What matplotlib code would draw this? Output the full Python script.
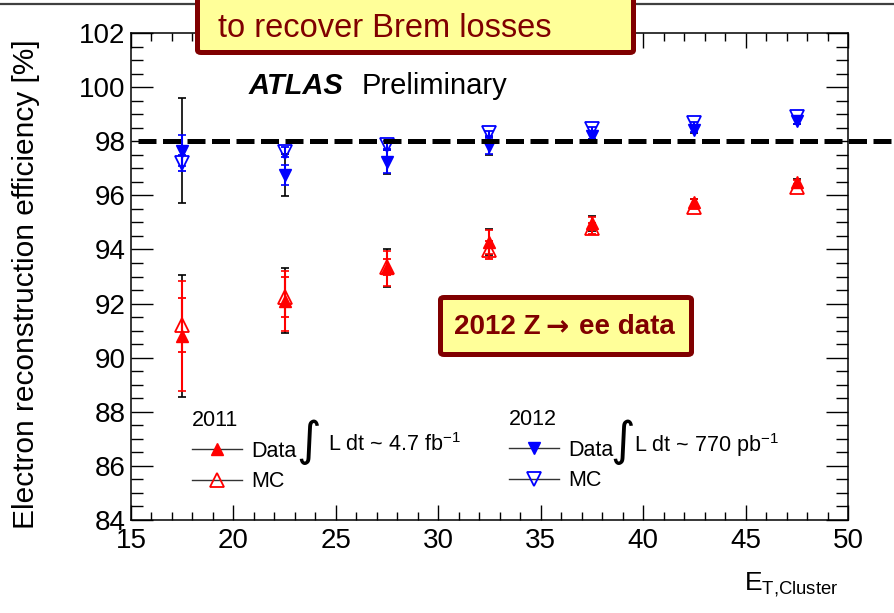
import matplotlib
matplotlib.use('Agg')
import matplotlib.pyplot as plt
from matplotlib.ticker import MultipleLocator
from matplotlib.lines import Line2D
from matplotlib.patches import FancyBboxPatch
from matplotlib.transforms import blended_transform_factory

plt.rcParams['font.family'] = ['Liberation Sans', 'DejaVu Sans']
plt.rcParams['mathtext.fontset'] = 'custom'
plt.rcParams['mathtext.rm'] = 'Liberation Sans'
plt.rcParams['mathtext.it'] = 'Liberation Sans:italic'
plt.rcParams['mathtext.bf'] = 'Liberation Sans:bold'

DARKRED = '#800000'
YELLOW = '#ffff99'

# E_T bins (GeV)
et_bins = [17.5, 22.5, 27.5, 32.5, 37.5, 42.5, 47.5]

# 2011 efficiencies [%]
eff11_data = [90.8, 92.1, 93.3, 94.28, 94.96, 95.76, 96.5]
eff11_stat = [2.05, 1.1, 0.65, 0.45, 0.25, 0.1, 0.08]
eff11_tot = [2.27, 1.2, 0.7, 0.48, 0.27, 0.12, 0.1]
eff11_mc = [91.2, 92.25, 93.35, 93.98, 94.78, 95.58, 96.32]
eff11_mc_err = [1.0, 0.75, 0.3, 0.35, 0.2, 0.08, 0.06]

# 2012 efficiencies [%]
eff12_data = [97.65, 96.75, 97.24, 97.82, 98.2, 98.41, 98.73]
eff12_stat = [0.58, 0.38, 0.43, 0.3, 0.1, 0.08, 0.08]
eff12_tot = [1.94, 0.76, 0.45, 0.32, 0.12, 0.1, 0.1]
eff12_mc = [97.2, 97.6, 97.86, 98.29, 98.45, 98.66, 98.88]
eff12_mc_err = [0.3, 0.2, 0.15, 0.1, 0.06, 0.05, 0.05]

ref_level = 98.0

W, H = 894, 613
fig = plt.figure(figsize=(W / 100, H / 100), dpi=100)
ax = fig.add_axes([131 / W, 1 - 520 / H, (848 - 131) / W, (520 - 33) / H])


def fx(px):
    return px / W


def fy(py):
    return 1 - py / H


# total errors in black underneath, stat errors in colour on top
ax.errorbar(et_bins, eff11_data, yerr=eff11_tot, fmt='none', ecolor='black',
            elinewidth=1.2, capsize=3, capthick=1.2, zorder=2)
ax.errorbar(et_bins, eff12_data, yerr=eff12_tot, fmt='none', ecolor='black',
            elinewidth=1.2, capsize=3, capthick=1.2, zorder=2)

ax.errorbar(et_bins, eff11_mc, yerr=eff11_mc_err, fmt='^', color='red', ms=10,
            mfc='none', mew=1.3, elinewidth=1.5, capsize=3, capthick=1.2, zorder=3)
ax.errorbar(et_bins, eff11_data, yerr=eff11_stat, fmt='^', color='red', ms=9,
            elinewidth=1.5, capsize=3, capthick=1.2, zorder=4)
ax.errorbar(et_bins, eff12_mc, yerr=eff12_mc_err, fmt='v', color='blue', ms=10,
            mfc='none', mew=1.3, elinewidth=1.5, capsize=3, capthick=1.2, zorder=3)
ax.errorbar(et_bins, eff12_data, yerr=eff12_stat, fmt='v', color='blue', ms=9,
            elinewidth=1.5, capsize=3, capthick=1.2, zorder=4)

# 98% reference line, runs past the frame to the page edge
trans = blended_transform_factory(fig.transFigure, ax.transData)
ax.plot([fx(138), 1.0], [ref_level, ref_level], transform=trans, color='black',
        lw=3.6, dashes=(3.6, 1.3), clip_on=False, zorder=6)

ax.set_xlim(15, 50)
ax.set_ylim(84, 102)
ax.xaxis.set_major_locator(MultipleLocator(5))
ax.xaxis.set_minor_locator(MultipleLocator(1))
ax.yaxis.set_major_locator(MultipleLocator(2))
ax.yaxis.set_minor_locator(MultipleLocator(0.5))
ax.tick_params(which='both', direction='in', top=True, right=True, width=1,
               labelsize=20)
ax.tick_params(axis='x', which='major', length=11, pad=6)
ax.tick_params(axis='x', which='minor', length=5.5)
ax.tick_params(axis='y', which='major', length=16, pad=4)
ax.tick_params(axis='y', which='minor', length=8.5)
for sp in ax.spines.values():
    sp.set_linewidth(1.1)

ax.set_ylabel('Electron reconstruction efficiency [%]', fontsize=21.5)
ax.yaxis.set_label_coords(-0.127, 0.485)
fig.text(fx(838), fy(585), r'E$_{\mathrm{T{,}Cluster}}$', fontsize=19,
         ha='right', va='center')

ax.text(fx(249), fy(86), 'ATLAS', transform=fig.transFigure, fontsize=21,
        fontweight='bold', fontstyle='italic', va='center')
ax.text(fx(362), fy(86), 'Preliminary', transform=fig.transFigure, fontsize=21,
        va='center')

# legends
h11d = Line2D([], [], color='#333333', lw=1, marker='^', ms=9, mfc='red', mec='red')
h11m = Line2D([], [], color='#333333', lw=1, marker='^', ms=10, mfc='none',
              mec='red', mew=1.3)
h12d = Line2D([], [], color='#333333', lw=1, marker='v', ms=9, mfc='blue', mec='blue')
h12m = Line2D([], [], color='#333333', lw=1, marker='v', ms=10, mfc='none',
              mec='blue', mew=1.3)

leg_kw = dict(frameon=False, fontsize=15.5, title_fontsize=15.5, alignment='left',
              handlelength=2.3, handletextpad=0.45, labelspacing=0.45,
              borderpad=0, borderaxespad=0, loc='upper left')
leg1 = ax.legend([h11d, h11m], ['Data', 'MC'], title='2011',
                 bbox_to_anchor=((192 - 131) / 717, (520 - 410) / 487), **leg_kw)
ax.add_artist(leg1)
ax.legend([h12d, h12m], ['Data', 'MC'], title='2012',
          bbox_to_anchor=((509 - 131) / 717, (520 - 409) / 487), **leg_kw)

for xi, xl, lumi in [(309, 328, r'L dt ~ 4.7 fb$^{-1}$'),
                     (623, 634, r'L dt ~ 770 pb$^{-1}$')]:
    fig.text(fx(xi), fy(442), '\u222b', family='DejaVu Sans', fontsize=34,
             ha='center', va='center')
    fig.text(fx(xl), fy(445), lumi, fontsize=15.5, va='center')

# callout boxes
top_box = FancyBboxPatch((fx(197.5), fy(52.5)), fx(633.5) - fx(197.5),
                         fy(-20) - fy(52.5), boxstyle='round,pad=0,rounding_size=0.004',
                         transform=fig.transFigure, fc=YELLOW, ec=DARKRED, lw=3.6,
                         clip_on=False, zorder=10)
fig.patches.append(top_box)
fig.text(fx(218), fy(37), 'to recover Brem losses', fontsize=23.5,
         color=DARKRED, va='baseline', zorder=11)

z_box = FancyBboxPatch((fx(440.5), fy(354.5)), fx(691.5) - fx(440.5),
                       fy(297.5) - fy(354.5), boxstyle='round,pad=0,rounding_size=0.004',
                       transform=fig.transFigure, fc=YELLOW, ec=DARKRED, lw=3.6,
                       zorder=10)
fig.patches.append(z_box)
fig.text(fx(541), fy(327), '2012 Z', fontsize=20, fontweight='bold',
         color=DARKRED, ha='right', va='center', zorder=11)
fig.text(fx(557), fy(327), '\u2192', family='DejaVu Sans', fontsize=20,
         fontweight='bold', color=DARKRED, ha='center', va='center', zorder=11)
fig.text(fx(579), fy(327), 'ee data', fontsize=20, fontweight='bold',
         color=DARKRED, ha='left', va='center', zorder=11)

# rule along the top of the page
fig.add_artist(Line2D([0, 1], [fy(4), fy(4)], transform=fig.transFigure,
                      color='#404040', lw=1.6, zorder=1))

fig.savefig('out.png', dpi=100)
